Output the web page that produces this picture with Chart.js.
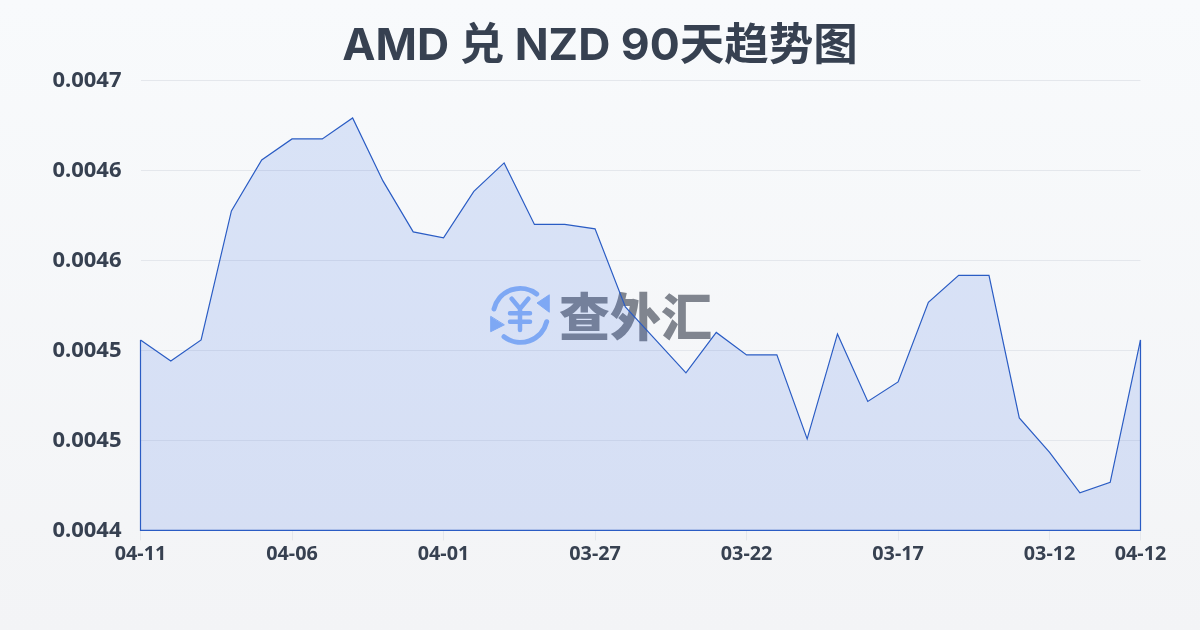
<!DOCTYPE html>
<html lang="zh">
<head>
<meta charset="utf-8">
<title>AMD 兑 NZD 90天趋势图</title>
<script src="https://cdn.jsdelivr.net/npm/chart.js@4"></script>
<style>
html, body { margin: 0; padding: 0; }
body { width: 1200px; height: 630px; overflow: hidden; position: relative; background: linear-gradient(180deg, #f8fafc 0%, #f3f4f6 100%); }
#mark { position: absolute; left: 488px; top: 283px; width: 64px; height: 64px; }
#markText { position: absolute; left: 559px; top: 279px; font: 900 51px/70px "Noto Sans CJK SC", sans-serif; color: #80858f; white-space: nowrap; }
#graficoTaxa { position: absolute; left: 0; top: 0; }
</style>
</head>
<body>
<svg id="mark" viewBox="0 0 64 64" fill="none" stroke="#8cb4f7" stroke-linecap="round">
  <path d="M6 26 A27 27 0 0 1 48.7 11" stroke-width="5"/>
  <path d="M58.7 38.7 A27 27 0 0 1 16 53.7" stroke-width="5"/>
  <path d="M61 12 L49 20 L61 29 Z" fill="#8cb4f7" stroke="#8cb4f7" stroke-width="1"/>
  <path d="M2.7 33.7 L2.7 48.7 L16 42 Z" fill="#8cb4f7" stroke="#8cb4f7" stroke-width="1"/>
  <path d="M23.7 15.7 L32 25.7 L40.3 15.7 M22 30.3 H42 M22 38.7 H42 M32 25.7 V47" stroke-width="4.5"/>
</svg>
<div id="markText">查外汇</div>
<canvas id="graficoTaxa" width="1200" height="630"></canvas>
<script>
// Categorias e valores
const categorias = ['04-11', '04-10', '04-09', '04-08', '04-07', '04-06', '04-05', '04-04', '04-03', '04-02',
    '04-01', '03-31', '03-30', '03-29', '03-28', '03-27', '03-26', '03-25', '03-24', '03-23',
    '03-22', '03-21', '03-20', '03-19', '03-18', '03-17', '03-16', '03-15', '03-14', '03-13',
    '03-12', '03-11', '03-10', '04-12'];
const taxas = [0.004527, 0.004513, 0.004527, 0.004613, 0.004647, 0.004661, 0.004661, 0.004675, 0.004633, 0.004599,
    0.004595, 0.004626, 0.004645, 0.004604, 0.004604, 0.004601, 0.004549, 0.004527, 0.004505, 0.004532,
    0.004517, 0.004517, 0.004461, 0.004531, 0.004486, 0.004499, 0.004552, 0.004570, 0.004570, 0.004475,
    0.004452, 0.004425, 0.004432, 0.004527];
const ticksY = [0.0044, 0.00446, 0.00452, 0.00458, 0.00464, 0.0047];
const indicesX = [0, 5, 10, 15, 20, 25, 30, 33];

const corLinha = '#2a5cc4';
const corTexto = '#374151';
const corGrade = '#e4e7ec';
const fonte = '"Noto Sans", "Noto Sans CJK SC", sans-serif';

// Fecha o contorno da área até a base do eixo
const contorno = {
    id: 'contorno',
    afterDatasetsDraw(chart) {
        const { ctx, scales: { x, y } } = chart;
        const base = y.getPixelForValue(ticksY[0]);
        ctx.save();
        ctx.strokeStyle = corLinha;
        ctx.lineWidth = 1.2;
        ctx.beginPath();
        ctx.moveTo(x.getPixelForValue(0), y.getPixelForValue(taxas[0]));
        ctx.lineTo(x.getPixelForValue(0), base);
        ctx.lineTo(x.getPixelForValue(taxas.length - 1), base);
        ctx.lineTo(x.getPixelForValue(taxas.length - 1), y.getPixelForValue(taxas[taxas.length - 1]));
        ctx.stroke();
        ctx.restore();
    }
};

new Chart(document.getElementById('graficoTaxa').getContext('2d'), {
    type: 'line',
    plugins: [contorno],
    data: {
        labels: categorias,
        datasets: [{
            data: taxas,
            borderColor: corLinha,
            borderWidth: 1.2,
            backgroundColor: 'rgba(50, 100, 225, 0.15)',
            fill: 'start',
            tension: 0,
            pointRadius: 0
        }]
    },
    options: {
        responsive: false,
        animation: false,
        layout: { padding: 0 },
        plugins: {
            legend: { display: false },
            tooltip: { enabled: false },
            title: {
                display: true,
                text: 'AMD 兑 NZD 90天趋势图',
                color: corTexto,
                font: { family: 'Inter, "Noto Sans CJK SC", sans-serif', size: 44.5, weight: 'bold' },
                padding: { top: 20, bottom: 7 }
            }
        },
        scales: {
            x: {
                offset: false,
                border: { display: false },
                grid: { drawOnChartArea: false, color: corGrade, tickLength: 10 },
                afterBuildTicks(scale) { scale.ticks = indicesX.map(i => ({ value: i })); },
                afterFit(scale) { scale.height = 99.6; },
                ticks: {
                    autoSkip: false,
                    maxRotation: 0,
                    padding: 2,
                    color: corTexto,
                    font: { family: fonte, size: 19.8, weight: 'bold' },
                    callback(value) { return categorias[value]; }
                }
            },
            y: {
                min: ticksY[0],
                max: ticksY[ticksY.length - 1],
                border: { display: false },
                grid: { color: corGrade, drawTicks: false },
                afterBuildTicks(scale) { scale.ticks = ticksY.map(v => ({ value: v })); },
                afterFit(scale) { scale.width = 140.5; },
                ticks: {
                    padding: 19,
                    color: corTexto,
                    font: { family: fonte, size: 22, weight: 'bold' },
                    callback(value) { return value.toFixed(4); }
                }
            },
            // eixo vazio à direita, só para reservar a margem
            margem: {
                position: 'right',
                border: { display: false },
                grid: { display: false },
                ticks: { display: false },
                afterFit(scale) { scale.width = 59.5; }
            }
        }
    }
});
</script>
</body>
</html>
